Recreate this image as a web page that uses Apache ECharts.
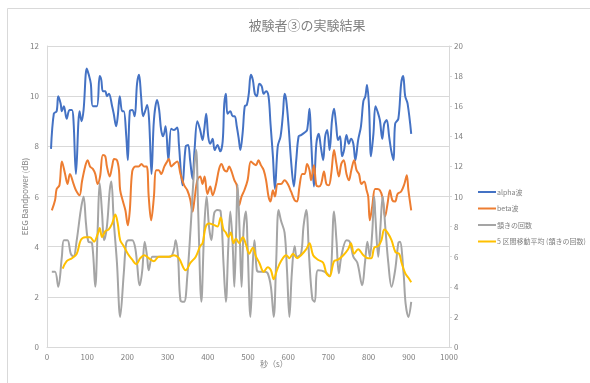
<!DOCTYPE html>
<html>
<head>
<meta charset="utf-8">
<script src="https://cdn.jsdelivr.net/npm/echarts@6/dist/echarts.min.js"></script>
<style>
  html, body { margin: 0; padding: 0; background: #ffffff; }
  #chart { width: 590px; height: 383px; }
</style>
</head>
<body>
<div id="chart"></div>
<script>
// Experiment result for subject 3: EEG band power (dB, left axis) and nod count (right axis) over time (s)

const chartTitle = '被験者③の実験結果';
const seriesNames = ['alpha波', 'beta波', '頷きの回数', '5 区間移動平均 (頷きの回数)'];
const xTicks = { min: 0, max: 1000, interval: 100 };
const leftTicks = { min: 0, max: 12, interval: 2 };
const rightTicks = { min: 0, max: 20, interval: 2 };

// [seconds, dB]
const alphaWave = [
  [10,7.9],[17,9.3],[24,9.4],[28,10.0],[34,9.7],[37,9.4],[42,9.6],[49,9.1],[56,9.45],[62,9.45],
  [66,9.0],[72,6.9],[81,9.4],[86,9.0],[91,9.45],[99,11.1],[104,10.85],[109,10.5],[114,9.6],[124,9.6],
  [131,10.8],[135,10.65],[139,10.2],[145,10.2],[149,10.0],[154,10.1],[162,9.6],[166,9.3],[172,8.8],[176,9.2],
  [181,10.0],[187,9.4],[191,9.4],[197,8.45],[201,7.45],[206,9.4],[212,9.45],[218,9.2],[224,10.5],[229,10.85],
  [234,10.0],[239,9.2],[245,9.45],[249,9.65],[254,9.05],[260,6.9],[266,9.05],[274,9.85],[279,9.45],[284,8.65],
  [289,8.4],[295,8.8],[302,7.45],[309,8.7],[316,8.65],[324,8.75],[328,8.1],[337,6.45],[345,8.0],[351,8.05],
  [356,7.45],[362,6.7],[367,7.85],[374,9.0],[381,8.65],[387,8.25],[391,8.65],[396,9.3],[401,8.4],[406,8.1],
  [412,8.3],[417,7.85],[424,8.05],[431,7.8],[437,8.2],[441,9.7],[445,10.1],[449,9.3],[456,9.4],[462,9.2],
  [467,9.2],[472,8.8],[477,8.3],[481,7.85],[487,8.6],[492,9.6],[497,9.65],[502,10.1],[507,10.85],[512,10.65],
  [517,10.1],[522,10.0],[528,10.5],[534,10.4],[539,10.1],[545,10.2],[551,10.0],[556,8.9],[562,7.6],[567,6.3],
  [574,8.0],[581,8.4],[587,9.3],[591,10.1],[595,9.85],[601,8.8],[607,7.45],[614,6.4],[620,7.45],[626,8.4],
  [632,8.45],[641,8.55],[647,8.65],[653,9.5],[657,8.25],[664,6.4],[670,8.1],[676,8.5],[681,8.0],[687,7.45],
  [692,8.4],[697,8.65],[703,7.85],[709,9.05],[714,9.5],[719,8.9],[724,8.25],[729,8.4],[734,7.6],[739,7.85],
  [745,8.45],[751,8.1],[756,8.3],[762,8.1],[767,7.45],[774,8.25],[781,8.8],[787,9.8],[792,10.0],[796,10.45],
  [801,9.6],[806,7.6],[812,8.5],[817,9.6],[822,9.4],[828,9.05],[834,8.3],[839,8.9],[845,9.05],[851,8.4],
  [856,7.85],[862,7.45],[866,8.9],[874,9.1],[881,10.5],[886,10.8],[891,10.0],[897,9.7],[906,8.5]
];

// [seconds, dB]
const betaWave = [
  [12,5.45],[20,5.85],[24,6.3],[31,6.45],[37,7.4],[45,6.9],[51,6.5],[57,6.9],[66,6.5],[72,6.25],
  [81,6.05],[87,6.6],[95,7.2],[101,7.45],[107,7.2],[114,7.1],[120,6.9],[126,6.5],[132,6.8],[139,7.65],
  [145,7.6],[149,7.2],[156,6.8],[162,7.2],[167,7.5],[174,7.45],[179,7.05],[182,6.25],[189,5.8],[195,5.45],
  [201,4.85],[206,5.45],[212,7.0],[220,7.2],[228,7.2],[235,7.3],[241,7.2],[248,7.2],[253,6.0],[259,5.05],
  [266,6.0],[271,7.05],[278,7.05],[284,6.9],[292,7.2],[299,7.4],[303,7.5],[309,7.2],[316,7.3],[324,7.4],
  [332,6.9],[341,6.45],[349,6.25],[356,5.9],[362,5.4],[367,5.9],[374,6.65],[381,6.8],[387,6.5],[392,6.8],
  [399,6.1],[406,6.4],[412,6.05],[420,6.45],[428,7.1],[434,7.3],[441,7.05],[447,7.0],[453,7.2],[459,7.0],
  [466,6.65],[472,6.45],[478,5.65],[484,6.0],[491,6.25],[499,6.65],[507,7.4],[514,7.3],[520,7.25],[526,7.45],
  [532,7.25],[539,7.05],[545,6.65],[551,6.0],[556,5.8],[562,6.25],[567,6.0],[574,6.5],[582,6.5],[591,6.65],
  [599,6.5],[607,6.2],[616,5.85],[622,5.8],[628,6.4],[635,6.9],[641,6.9],[647,7.3],[653,7.05],[657,6.65],
  [664,7.25],[670,6.45],[676,6.4],[682,6.5],[689,7.0],[695,6.5],[701,6.45],[707,6.9],[714,7.85],[720,7.3],
  [726,6.8],[732,7.3],[738,7.45],[745,6.9],[751,6.65],[757,7.05],[764,7.45],[770,7.05],[776,6.9],[782,6.5],
  [789,6.6],[795,6.25],[799,6.0],[803,5.05],[809,5.6],[816,6.3],[822,6.3],[828,6.25],[834,6.0],[841,5.2],
  [847,5.7],[853,6.25],[859,5.85],[866,5.8],[872,6.1],[881,6.2],[889,6.5],[895,6.85],[899,6.25],[906,5.45]
];

// [seconds, count]
const nodCount = [
  [12,5.0],[20,5.0],[28,4.0],[37,6.0],[42,7.1],[51,7.1],[59,6.2],[66,6.0],[74,7.1],[84,9.1],
  [91,10.0],[97,8.2],[103,7.0],[112,6.9],[120,4.0],[126,7.8],[131,10.9],[137,8.9],[142,7.1],[149,8.0],
  [156,10.4],[160,11.0],[166,8.4],[174,5.6],[182,2.0],[191,4.9],[197,6.9],[203,7.1],[212,7.1],[220,6.5],
  [231,4.1],[237,5.1],[243,7.0],[249,6.0],[253,5.1],[262,6.0],[270,6.0],[282,6.0],[295,6.0],[307,6.0],
  [316,6.5],[320,7.1],[326,6.0],[332,3.1],[341,3.0],[349,4.7],[357,7.8],[366,11.8],[371,13.1],[376,9.1],
  [384,3.0],[391,7.8],[397,10.0],[403,8.0],[409,7.1],[416,8.9],[424,9.1],[432,9.0],[439,5.6],[445,3.0],
  [451,6.7],[456,9.0],[462,6.7],[466,4.0],[471,8.2],[474,10.8],[479,7.8],[484,4.0],[489,7.8],[495,9.0],
  [499,6.7],[506,2.0],[512,5.6],[516,7.1],[522,5.1],[528,5.0],[541,5.0],[549,4.9],[557,4.0],[564,2.0],
  [570,5.6],[576,9.1],[582,8.4],[591,7.6],[597,5.1],[603,2.0],[609,4.9],[616,6.7],[622,6.0],[632,6.2],
  [638,8.0],[645,9.1],[652,6.0],[660,3.2],[666,3.0],[674,5.1],[691,5.0],[703,4.7],[714,9.0],[720,7.1],
  [726,4.9],[732,6.0],[745,7.1],[753,7.0],[762,6.0],[772,5.6],[784,4.1],[791,5.6],[797,7.0],[803,6.0],
  [809,7.6],[814,10.0],[817,8.6],[824,6.0],[829,7.8],[835,10.0],[842,7.8],[849,5.6],[857,4.0],[866,5.1],
  [874,6.9],[878,7.0],[887,4.9],[892,2.9],[899,2.0],[906,3.0]
];

// [seconds, count] — 5-interval moving average of the nod count
const nodMovingAvg = [
  [39,5.2],[49,5.7],[62,5.9],[74,6.2],[84,7.1],[95,7.3],[107,7.3],[117,7.0],[126,7.5],[131,7.9],
  [137,7.3],[145,7.7],[153,7.8],[162,8.2],[170,8.8],[176,8.2],[182,7.1],[191,6.7],[201,6.2],[212,5.8],
  [222,5.5],[232,5.9],[242,6.1],[253,5.9],[266,5.7],[278,6.0],[291,6.0],[303,6.0],[316,6.1],[328,5.9],
  [345,5.1],[357,5.6],[370,6.0],[381,6.7],[387,6.9],[395,8.0],[403,8.2],[416,8.1],[424,8.0],[432,8.6],
  [439,7.8],[445,7.6],[451,7.3],[457,7.6],[464,6.9],[470,7.2],[478,6.9],[487,7.3],[495,6.8],[503,6.2],
  [512,6.6],[520,6.0],[528,5.6],[539,5.0],[549,5.3],[557,5.1],[564,4.5],[572,5.1],[582,5.7],[595,6.1],
  [603,5.9],[612,6.2],[622,5.9],[632,6.1],[645,6.5],[653,6.9],[662,6.1],[674,5.8],[687,5.6],[695,4.9],
  [703,4.7],[714,5.7],[724,5.8],[737,6.1],[749,6.5],[756,6.9],[764,6.2],[774,6.5],[787,6.1],[799,5.9],
  [807,5.9],[814,6.6],[824,6.7],[832,7.1],[839,7.8],[847,7.6],[857,7.1],[867,6.3],[876,6.2],[882,5.6],
  [891,4.9],[899,4.6],[906,4.3]
];

const palette = ['#4472C4', '#ED7D31', '#A5A5A5', '#FFC000'];
const textColor = '#7f7f7f';
const gridColor = '#d9d9d9';
const font = '"Noto Sans CJK JP", "Noto Sans", sans-serif';

const chart = echarts.init(document.getElementById('chart'), null, { renderer: 'canvas' });

function lineSeries(name, data, axisIndex, color) {
  return {
    name: name,
    type: 'line',
    yAxisIndex: axisIndex,
    data: data,
    smooth: 0.35,
    showSymbol: false,
    symbol: 'none',
    lineStyle: { width: 2, color: color },
    itemStyle: { color: color },
    emphasis: { disabled: true },
    animation: false
  };
}

chart.setOption({
  animation: false,
  backgroundColor: '#ffffff',
  textStyle: { fontFamily: font },
  title: {
    text: chartTitle,
    left: 302,
    top: 14,
    textAlign: 'center',
    textStyle: { fontSize: 13, fontWeight: 'normal', color: '#7f7f7f', fontFamily: font }
  },
  grid: { left: 47, right: 141, top: 46, bottom: 36, containLabel: false },
  legend: {
    orient: 'vertical',
    left: 473,
    top: 182,
    icon: 'rect',
    itemWidth: 18,
    itemHeight: 2,
    itemGap: 6.5,
    data: seriesNames,
    textStyle: { fontSize: 7, color: textColor, lineHeight: 10, fontFamily: font, padding: [0, 0, 0, -4] }
  },
  xAxis: {
    type: 'value',
    min: xTicks.min,
    max: xTicks.max,
    interval: xTicks.interval,
    axisLine: { show: true, lineStyle: { color: gridColor } },
    axisTick: { show: false },
    splitLine: { show: false },
    axisLabel: { fontSize: 8, color: textColor, margin: 6, formatter: (v) => String(v) }
  },
  yAxis: [
    {
      type: 'value',
      min: leftTicks.min,
      max: leftTicks.max,
      interval: leftTicks.interval,
      name: 'EEG Bandpower (dB)',
      nameLocation: 'middle',
      nameGap: 18,
      nameMoveOverlap: false,
      nameTextStyle: { fontSize: 8, color: textColor },
      axisLine: { show: true, lineStyle: { color: gridColor } },
      axisTick: { show: false },
      splitLine: { show: true, lineStyle: { color: gridColor, width: 1 } },
      axisLabel: { fontSize: 8, color: textColor, margin: 8 }
    },
    {
      type: 'value',
      min: rightTicks.min,
      max: rightTicks.max,
      interval: rightTicks.interval,
      axisLine: { show: true, lineStyle: { color: gridColor } },
      axisTick: { show: true, length: 3, lineStyle: { color: gridColor } },
      splitLine: { show: false },
      axisLabel: { fontSize: 8, color: textColor, margin: 5 }
    }
  ],
  graphic: [
    {
      type: 'rect',
      shape: { x: 7.5, y: 8.5, width: 600, height: 400 },
      style: { fill: null, stroke: gridColor, lineWidth: 1 },
      silent: true,
      z: -1
    },
    {
      type: 'text',
      left: 260,
      top: 360,
      style: { text: '秒（s）', fontSize: 8, fill: textColor, fontFamily: font },
      silent: true
    }
  ],
  series: [
    lineSeries(seriesNames[0], alphaWave, 0, palette[0]),
    lineSeries(seriesNames[1], betaWave, 0, palette[1]),
    lineSeries(seriesNames[2], nodCount, 1, palette[2]),
    lineSeries(seriesNames[3], nodMovingAvg, 1, palette[3])
  ]
});
</script>
</body>
</html>
